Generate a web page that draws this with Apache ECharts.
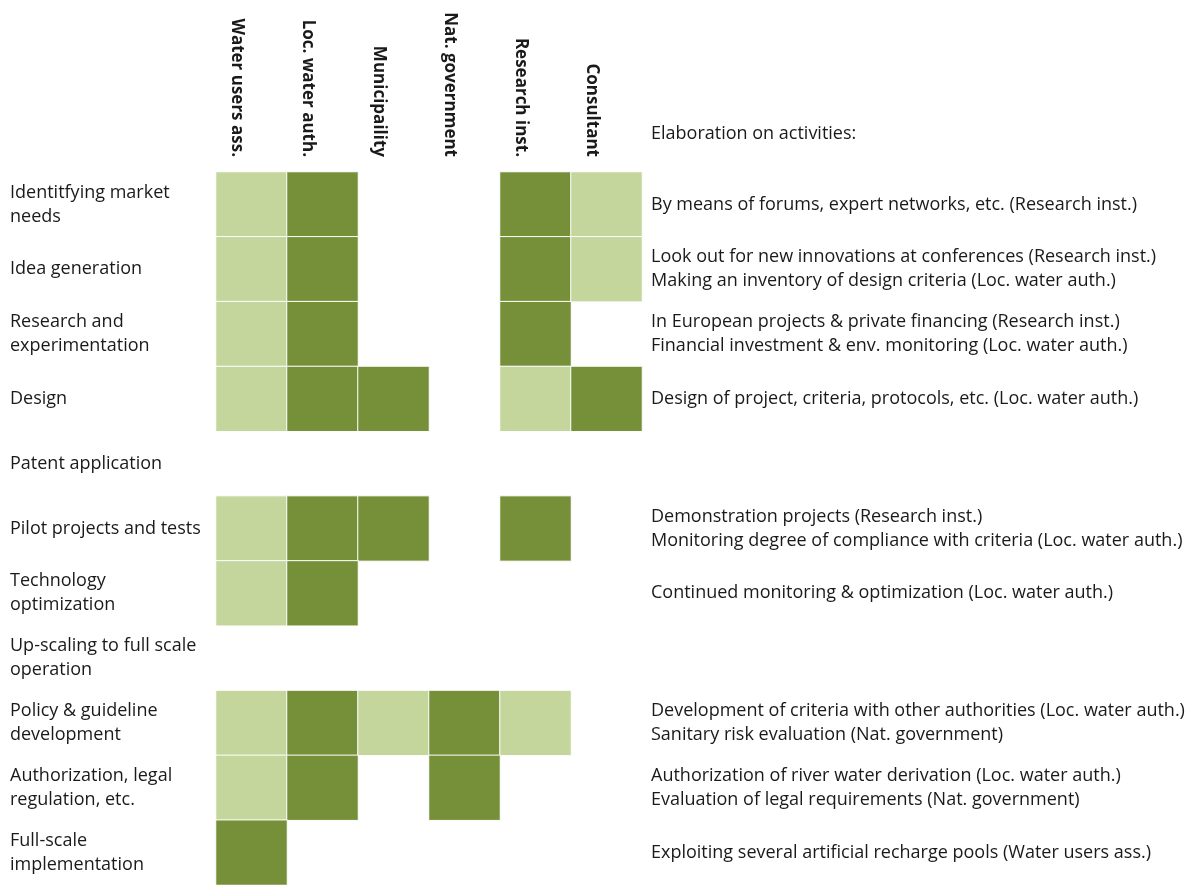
<!DOCTYPE html>
<html>
<head>
<meta charset="utf-8">
<script src="https://cdn.jsdelivr.net/npm/echarts@6/dist/echarts.min.js"></script>
<style>html,body{margin:0;padding:0;background:#fff;}#chart{width:1192px;height:885px;}</style>
</head>
<body>
<div id="chart"></div>
<script>
const actors = ["Water users ass.", "Loc. water auth.", "Municipaility", "Nat. government", "Research inst.", "Consultant"];
const activities = [
  "Identitfying market\nneeds",
  "Idea generation",
  "Research and\nexperimentation",
  "Design",
  "Patent application",
  "Pilot projects and tests",
  "Technology\noptimization",
  "Up-scaling to full scale\noperation",
  "Policy & guideline\ndevelopment",
  "Authorization, legal\nregulation, etc.",
  "Full-scale\nimplementation"
];
const elaborations = [
  "By means of forums, expert networks, etc. (Research inst.)",
  "Look out for new innovations at conferences (Research inst.)\nMaking an inventory of design criteria (Loc. water auth.)",
  "In European projects & private financing (Research inst.)\nFinancial investment & env. monitoring (Loc. water auth.)",
  "Design of project, criteria, protocols, etc. (Loc. water auth.)",
  "",
  "Demonstration projects (Research inst.)\nMonitoring degree of compliance with criteria (Loc. water auth.)",
  "Continued monitoring & optimization (Loc. water auth.)",
  "",
  "Development of criteria with other authorities (Loc. water auth.)\nSanitary risk evaluation (Nat. government)",
  "Authorization of river water derivation (Loc. water auth.)\nEvaluation of legal requirements (Nat. government)",
  "Exploiting several artificial recharge pools (Water users ass.)"
];
// involvement level per activity (rows) and actor (columns): 0 none, 1 light, 2 strong
const involvement = [
  [1, 2, 0, 0, 2, 1],
  [1, 2, 0, 0, 2, 1],
  [1, 2, 0, 0, 2, 0],
  [1, 2, 2, 0, 1, 2],
  [0, 0, 0, 0, 0, 0],
  [1, 2, 2, 0, 2, 0],
  [1, 2, 0, 0, 0, 0],
  [0, 0, 0, 0, 0, 0],
  [1, 2, 1, 2, 1, 0],
  [1, 2, 0, 2, 0, 0],
  [2, 0, 0, 0, 0, 0]
];
const title = "Elaboration on activities:";

const cells = [];
involvement.forEach((row, r) => row.forEach((v, c) => { if (v > 0) cells.push([c, r, v]); }));

const FONT = "Open Sans";
const chart = echarts.init(document.getElementById('chart'));
chart.setOption({
  animation: false,
  backgroundColor: '#fff',
  title: {
    text: title, left: 646, top: 120,
    textStyle: { fontFamily: FONT, fontSize: 18, fontWeight: 'normal', color: '#1a1a1a' }
  },
  grid: { left: 216, width: 426, top: 172, height: 714 },
  xAxis: {
    type: 'category', position: 'top', data: actors,
    axisLine: { show: false }, axisTick: { show: false }, splitLine: { show: false },
    axisLabel: {
      rotate: 90, margin: 15, interval: 0, align: 'right', verticalAlign: 'top', lineHeight: 30,
      fontFamily: FONT, fontSize: 17, fontWeight: 'bold', color: '#1a1a1a'
    }
  },
  yAxis: [{
    type: 'category', inverse: true, data: activities,
    axisLine: { show: false }, axisTick: { show: false }, splitLine: { show: false },
    axisLabel: {
      interval: 0, align: 'left', margin: 206,
      fontFamily: FONT, fontSize: 18, lineHeight: 24, color: '#1a1a1a'
    }
  }, {
    type: 'category', inverse: true, position: 'right', data: elaborations,
    axisLine: { show: false }, axisTick: { show: false }, splitLine: { show: false },
    axisLabel: {
      interval: 0, align: 'left', margin: 9,
      fontFamily: FONT, fontSize: 18, lineHeight: 24, color: '#1a1a1a'
    }
  }],
  visualMap: {
    show: false, type: 'piecewise', dimension: 2,
    pieces: [{ value: 1, color: '#c4d69c' }, { value: 2, color: '#76903a' }]
  },
  series: [{
    type: 'heatmap', data: cells,
    itemStyle: { borderColor: '#fff', borderWidth: 1 },
    emphasis: { disabled: true }
  }]
});
</script>
</body>
</html>
